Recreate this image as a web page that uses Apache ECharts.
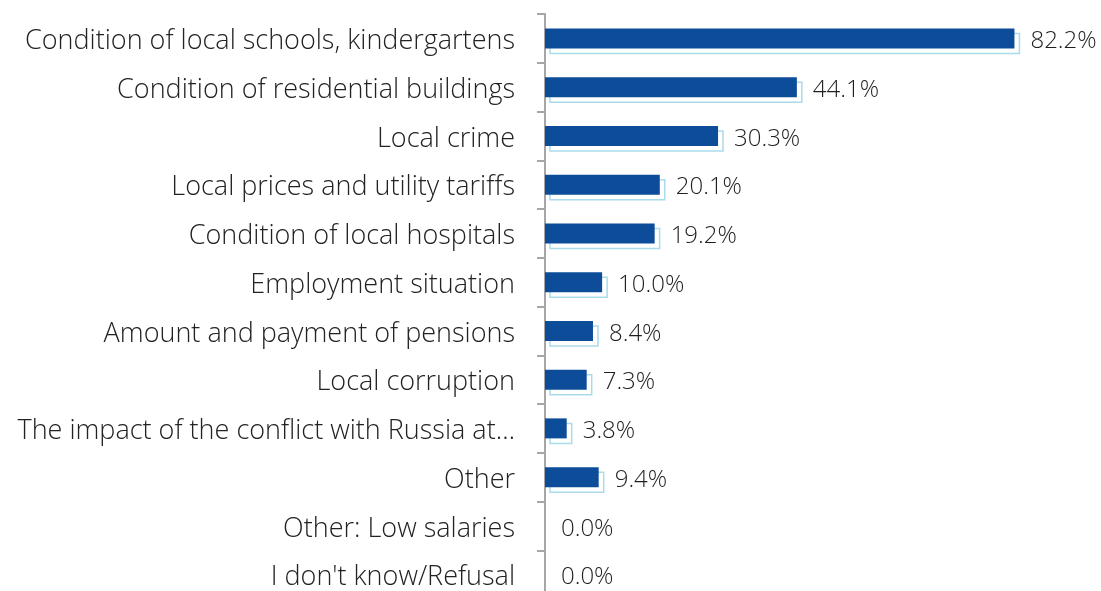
<!DOCTYPE html>
<html><head><meta charset="utf-8">
<script src="https://cdn.jsdelivr.net/npm/echarts@6/dist/echarts.min.js"></script>
<style>html,body{margin:0;padding:0;background:#fff}#c{width:1101px;height:591px}</style>
</head><body><div id="c"></div>
<script>
var categories = [
  "Condition of local schools, kindergartens",
  "Condition of residential buildings",
  "Local crime",
  "Local prices and utility tariffs",
  "Condition of local hospitals",
  "Employment situation",
  "Amount and payment of pensions",
  "Local corruption",
  "The impact of the conflict with Russia at…",
  "Other",
  "Other: Low salaries",
  "I don't know/Refusal"
];
var values = [82.2, 44.1, 30.3, 20.1, 19.2, 10.0, 8.4, 7.3, 3.8, 9.4, 0.0, 0.0];

var FONT = '"Open Sans", sans-serif';
var chart = echarts.init(document.getElementById('c'));
chart.setOption({
  animation: false,
  grid: {left: 545, top: 14, width: 514, height: 585, containLabel: false, outerBoundsMode: 'none'},
  xAxis: {type: 'value', min: 0, max: 90, show: false},
  yAxis: {
    type: 'category', data: categories, inverse: true,
    axisLine: {show: true, lineStyle: {color: '#a6a6a6', width: 2}},
    axisTick: {show: true, length: 8, lineStyle: {color: '#a6a6a6', width: 2}},
    axisLabel: {fontFamily: FONT, fontSize: 27, fontWeight: 300, color: '#222222', margin: 30,
      verticalAlign: 'middle',
      formatter: function (v) { return '{a|' + v + '}'; },
      rich: {a: {fontFamily: FONT, fontSize: 27, fontWeight: 300, color: '#222222', padding: [6, 0, 0, 0]}}},
    splitLine: {show: false}
  },
  series: [{
    type: 'custom',
    data: values.map(function (v, i) { return [v, i]; }),
    encode: {x: 0, y: 1},
    renderItem: function (params, api) {
      var v = api.value(0);
      var p0 = api.coord([0, api.value(1)]);
      var p1 = api.coord([v, api.value(1)]);
      var h = 20;
      var w = p1[0] - p0[0];
      var y = p0[1] - h / 2;
      var children = [];
      if (v > 0) {
        children.push({type: 'rect', shape: {x: p0[0] + 5, y: y + 5, width: w, height: h},
          style: {fill: 'none', stroke: '#a9dbea', lineWidth: 1.5}});
        children.push({type: 'rect', shape: {x: p0[0], y: y, width: w, height: h},
          style: {fill: '#0d4c99'}});
      }
      children.push({type: 'text', x: p1[0] + 16, y: p0[1] + 3,
        style: {text: v.toFixed(1) + '%', fontFamily: FONT, fontSize: 24, fontWeight: 300, fill: '#1f1f1f',
          verticalAlign: 'middle', align: 'left'}});
      return {type: 'group', children: children};
    }
  }]
});
</script></body></html>
